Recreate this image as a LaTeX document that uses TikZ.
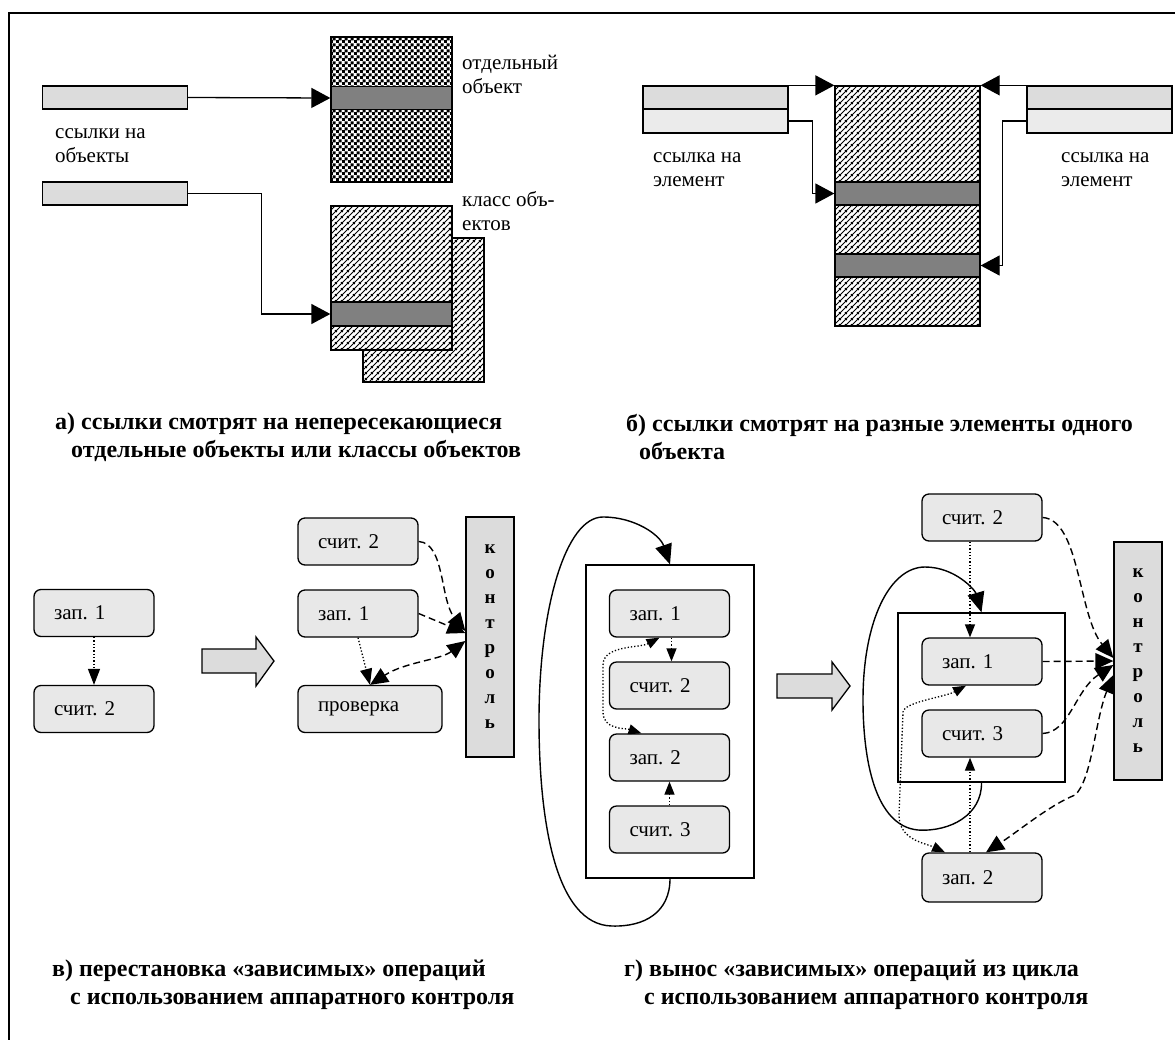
\documentclass[tikz,border=0pt]{standalone}
\usepackage{fontspec}
\setmainfont{Liberation Serif}
\usepackage{tikz}
\usetikzlibrary{arrows.meta,patterns}
\frenchspacing

\definecolor{refgray}{HTML}{DCDCDC}
\definecolor{reflight}{HTML}{EBEBEB}
\definecolor{opgray}{HTML}{E8E8E8}
\definecolor{bandgray}{HTML}{808080}

% мелкая "шахматка" для отдельного объекта
\pgfdeclarepatternformonly{mesh}{\pgfpointorigin}{\pgfqpoint{6pt}{6pt}}{\pgfqpoint{6pt}{6pt}}{%
  \pgfpathrectangle{\pgfpointorigin}{\pgfqpoint{3.4pt}{3.4pt}}%
  \pgfpathrectangle{\pgfqpoint{3pt}{3pt}}{\pgfqpoint{3.4pt}{3.4pt}}%
  \pgfusepath{fill}}
% косая штриховка
\pgfdeclarepatternformonly{hatch}{\pgfpointorigin}{\pgfqpoint{6pt}{6pt}}{\pgfqpoint{6pt}{6pt}}{%
  \pgfsetlinewidth{1.2pt}%
  \pgfpathmoveto{\pgfqpoint{-1pt}{-1pt}}\pgfpathlineto{\pgfqpoint{7pt}{7pt}}%
  \pgfpathmoveto{\pgfqpoint{-1pt}{5pt}}\pgfpathlineto{\pgfqpoint{1pt}{7pt}}%
  \pgfpathmoveto{\pgfqpoint{5pt}{-1pt}}\pgfpathlineto{\pgfqpoint{7pt}{1pt}}%
  \pgfusepath{stroke}}

\begin{document}
\begin{tikzpicture}[x=1pt,y=-1pt,
    txt/.style={anchor=west,align=left,inner sep=0pt,font=\fontsize{21}{24}\selectfont},
    captxt/.style={anchor=west,align=left,inner sep=0pt,font=\fontsize{24}{28}\selectfont\bfseries},
    ref/.style={draw,line width=1.3pt,fill=refgray,minimum width=145,minimum height=23,inner sep=0pt},
    obj/.style={draw,line width=1.3pt,minimum width=121,inner sep=0pt},
    band/.style={draw,line width=1.3pt,fill=bandgray,minimum width=121,minimum height=23,inner sep=0pt},
    op/.style={draw,line width=1.3pt,fill=opgray,rounded corners=7pt,minimum height=47,
      text width=80pt,inner xsep=20pt,align=left,font=\fontsize{21}{24}\selectfont},
    ctrl/.style={draw,line width=1.3pt,fill=refgray,minimum width=48,minimum height=240,
      align=center,font=\fontsize{19}{25}\selectfont\bfseries},
    cycbox/.style={draw,line width=1.3pt,inner sep=0pt},
    big/.style={line width=1.3pt,-{Triangle[length=19pt,width=20pt]}},
    dsh/.style={line width=1.4pt,dash pattern=on 7pt off 4pt,-{Triangle[length=18pt,width=16pt]}},
    dshb/.style={dsh,{Triangle[length=18pt,width=16pt]}-{Triangle[length=18pt,width=16pt]}},
    dts/.style={line width=1.3pt,dash pattern=on 1.3pt off 2pt,-{Triangle[length=16pt,width=12pt]}},
    dtsb/.style={dts,{Triangle[length=13pt,width=10pt]}-{Triangle[length=13pt,width=10pt]}},
    dtsm/.style={dts,-{Triangle[length=13pt,width=10pt]}},
    cyclearrow/.style={line width=1.4pt,-{Triangle[length=20pt,width=17pt]}},
    blockarrow/.style={draw,line width=1.3pt,fill=refgray}]
    \useasboundingbox (0,0) rectangle (1175,1039);
    \draw[line width=1.3pt] (9,1050) -- (9,13) -- (1185,13); % рамка

    % ---- а) ----
    \node[ref] (refA1) at (115,97.5) {};
    \node[ref] (refA2) at (115,193.5) {};
    \node[txt] (lblA) at (55,146) {ссылки на\\объекты};
    \node[obj,pattern=mesh,minimum height=145] (objA) at (391.5,109.5) {};
    \node[band] (bandA1) at (391.5,98) {};
    \node[obj,pattern=hatch,minimum height=144] (backA) at (423.5,310) {};
    \node[obj,fill=white,minimum height=144] (frontAw) at (391.5,278) {};
    \node[obj,pattern=hatch,minimum height=144] (frontA) at (391.5,278) {};
    \node[band,minimum height=24] (bandA2) at (391.5,314) {};
    \node[txt] (lblObj) at (462,74) {отдельный\\объект};
    \node[txt] (lblCls) at (462,211) {класс объ-\\ектов};
    \draw[big] (refA1.east) -- (bandA1.west);
    \draw[big] (refA2.east) -- ++(73,0) |- (bandA2.west);
    \node[captxt] (capA) at (55,437) {а) ссылки смотрят на непересекающиеся\\\hspace*{16pt}отдельные объекты или классы объектов};

    % ---- б) ----
    \node[ref] (refB1) at (715.5,97.5) {};
    \node[ref,fill=reflight,minimum height=24] (refB2) at (715.5,121) {};
    \node[ref] (refC1) at (1099.5,97.5) {};
    \node[ref,fill=reflight,minimum height=24] (refC2) at (1099.5,121) {};
    \node[obj,pattern=hatch,minimum width=145,minimum height=240] (objB) at (907.5,206) {};
    \node[band,minimum width=145] (bandB1) at (907.5,193.5) {};
    \node[band,minimum width=145] (bandB2) at (907.5,265.5) {};
    \draw[big] (refB1.north east) -- (objB.north west);
    \draw[big] (refB2.east) -- ++(24,0) |- (bandB1.west);
    \draw[big] (refC1.north west) -- (objB.north east);
    \draw[big] (refC2.west) -- ++(-24,0) |- (bandB2.east);
    \node[txt] (lblB1) at (653,170) {ссылка на\\элемент};
    \node[txt] (lblB2) at (1061,170) {ссылка на\\элемент};
    \node[captxt] (capB) at (626,437) {б) ссылки смотрят на разные элементы одного\\\hspace*{13pt}объекта};

    % ---- в) ----
    \node[op] (z1l) at (94,613) {зап. 1};
    \node[op] (c2l) at (94,709) {счит. 2};
    \draw[dts] (z1l.south) -- (c2l.north);
    \draw[blockarrow] (202,649) -- (256,649) -- (256,637) -- (274,661) -- (256,686) -- (256,673) -- (202,673) -- cycle;
    \node[op] (c2m) at (358,541.5) {счит. 2};
    \node[op] (z1m) at (358,613.5) {зап. 1};
    \node[op,text width=104pt] (prov) at (370,709) {проверка};
    \node[ctrl] (ctlA) at (490,637) {к\\о\\н\\т\\р\\о\\л\\ь};
    \draw[dsh] (c2m.east) .. controls (445,543) and (440,600) .. ([yshift=6pt]ctlA.west);
    \draw[dsh] (z1m.east) -- ([yshift=4pt]ctlA.west);
    \draw[dshb] ([yshift=-4pt]ctlA.west) .. controls (440,660) and (405,662) .. (prov.north);
    \draw[dts] (z1m.south) -- (prov.north);
    \node[captxt] (capC) at (52,985) {в) перестановка «зависимых» операций\\\hspace*{18pt}с использованием аппаратного контроля};

    % ---- г) ----
    \node[cycbox,minimum width=168,minimum height=313] (cycA) at (670,721.5) {};
    \node[op] (z1g) at (669.5,613.5) {зап. 1};
    \node[op] (c2g) at (669.5,685.5) {счит. 2};
    \node[op] (z2g) at (669.5,757.5) {зап. 2};
    \node[op] (c3g) at (669.5,829.5) {счит. 3};
    \draw[dtsm] ([xshift=2pt]z1g.south) -- ([xshift=2pt]c2g.north);
    \draw[dtsm] (c3g.north) -- (z2g.south);
    \draw[dtsb] ([xshift=-10pt]z1g.south) .. controls (640,648) and (603,645) .. (603,665)
      -- (603,712) .. controls (603,730) and (625,728) .. ([xshift=-28pt]z2g.north);
    \draw[cyclearrow] (cycA.south) .. controls (670,912) and (645,927) .. (612,926)
      .. controls (555,925) and (539,820) .. (539,720)
      .. controls (539,610) and (565,517) .. (603,517)
      .. controls (635,517) and (660,535) .. (cycA.north); % цикл
    \draw[blockarrow] (777,674) -- (832,674) -- (832,662) -- (850,686) -- (832,710) -- (832,698) -- (777,698) -- cycle;

    \node[op] (c2r) at (982,517.5) {счит. 2};
    \node[cycbox,minimum width=167,minimum height=169] (cycB) at (981.5,697.5) {};
    \node[op] (z1r) at (982,661.5) {зап. 1};
    \node[op] (c3r) at (982,733.5) {счит. 3};
    \node[op,minimum height=49] (z2r) at (982,877.5) {зап. 2};
    \node[ctrl,minimum height=238] (ctlB) at (1138,661) {к\\о\\н\\т\\р\\о\\л\\ь};
    \draw[dtsm] ([xshift=-12pt]c2r.south) -- ([xshift=-12pt]z1r.north);
    \draw[dtsm] ([xshift=-12pt]z2r.north) -- ([xshift=-12pt]c3r.south);
    \draw[dtsb] ([xshift=-16pt]z1r.south) .. controls (945,697) and (904,702) .. (903,712)
      -- (899,815) .. controls (899,840) and (925,843) .. ([xshift=-37pt]z2r.north);
    \draw[cyclearrow] (cycB.south) .. controls (982,815) and (950,832) .. (918,830)
      .. controls (875,826) and (863,760) .. (863,700)
      .. controls (863,620) and (890,567) .. (925,567)
      .. controls (955,567) and (975,590) .. (cycB.north); % цикл
    \draw[dsh] (c2r.east) .. controls (1080,520) and (1078,615) .. ([yshift=3pt]ctlB.west);
    \draw[dsh] (z1r.east) -- (ctlB.west);
    \draw[dsh] (c3r.east) .. controls (1070,732) and (1075,690) .. ([yshift=-4pt]ctlB.west);
    \draw[dshb] ([yshift=-14pt]ctlB.west) .. controls (1095,720) and (1092,780) .. (1075,795)
      .. controls (1050,805) and (1020,830) .. ([xshift=4pt]z2r.north);
    \node[captxt] (capD) at (624,985) {г) вынос «зависимых» операций из цикла\\\hspace*{20pt}с использованием аппаратного контроля};
\end{tikzpicture}
\end{document}
